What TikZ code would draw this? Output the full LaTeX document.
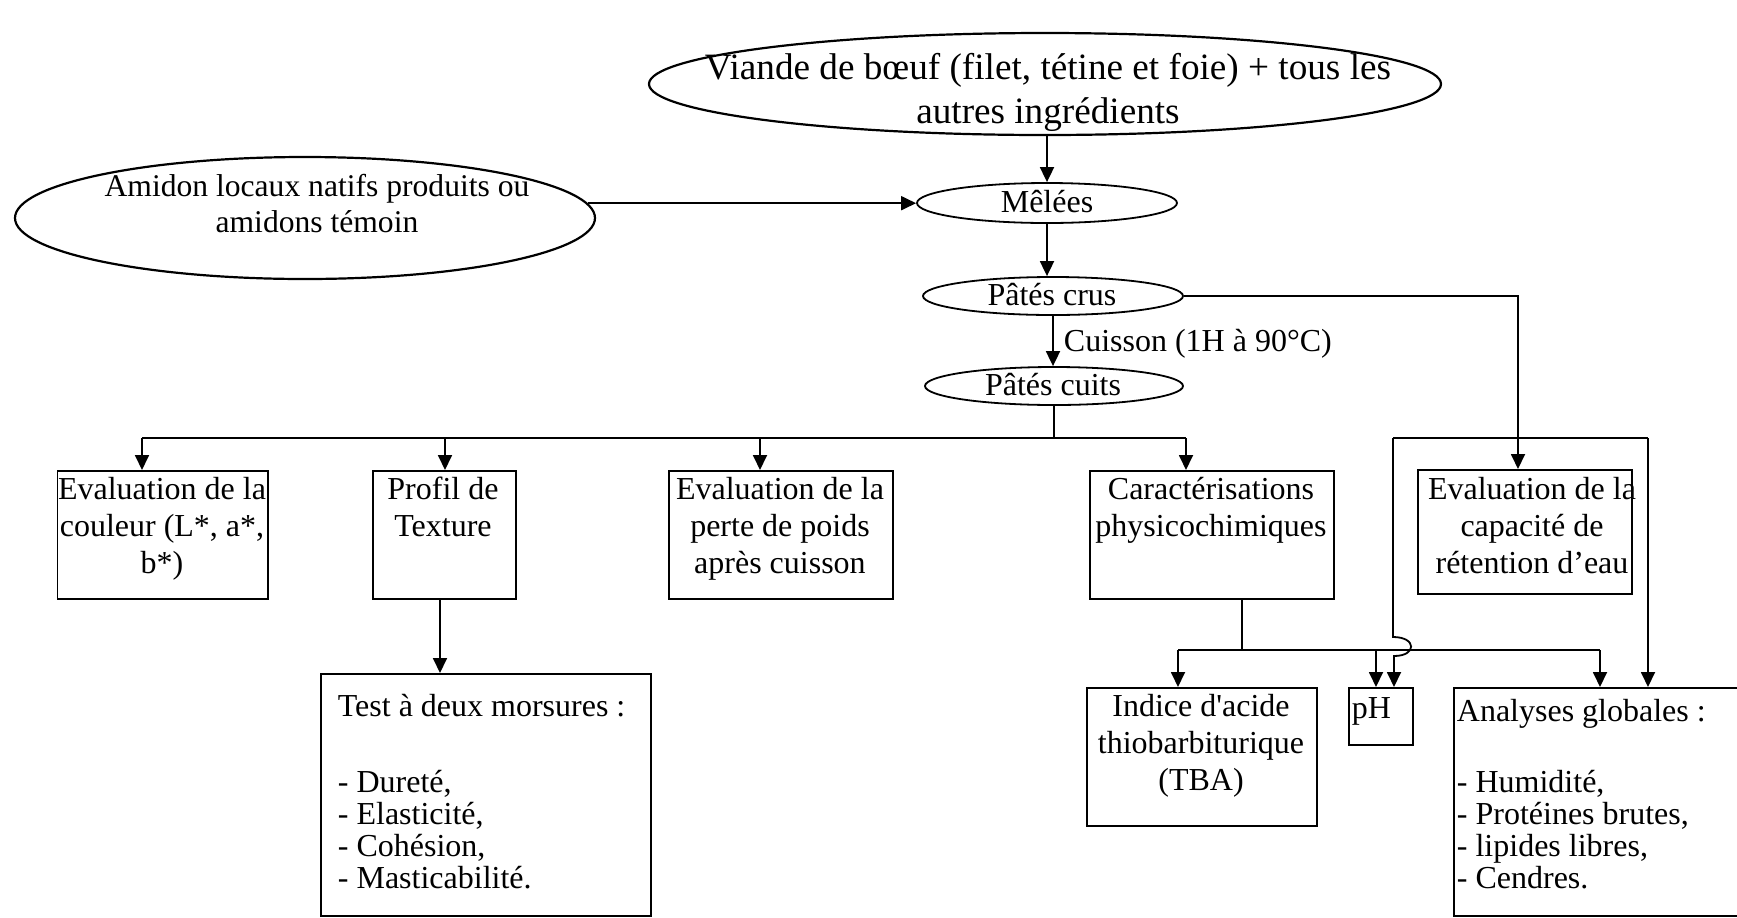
\documentclass[tikz,border=0pt]{standalone}
\usepackage{fontspec}
\setmainfont{Liberation Serif}[Ligatures=TeXOff]
\usetikzlibrary{arrows.meta,shapes.geometric}
\begin{document}
\begin{tikzpicture}[x=0.5pt,y=-0.5pt,
  line width=0.9pt,
  arr/.style={-{Triangle[length=7.5pt,width=7pt]}},
  ell/.style={draw,ellipse,inner sep=0pt},
  box/.style={draw,rectangle,inner sep=0pt,anchor=north west},
  txt/.style={font=\fontsize{16}{18.6}\selectfont,align=center,inner sep=0pt},
  lst/.style={font=\fontsize{16}{16}\selectfont,align=left,inner sep=0pt,anchor=north west}]
\useasboundingbox (0,0) rectangle (1737,917);
\clip (0,0) rectangle (1737,917);

% ellipses
\node[ell,line width=1.1pt,minimum width=396pt,minimum height=51pt] (viande) at (1045,84) {};
\node[font=\fontsize{18.6}{22}\selectfont,align=center,inner sep=0pt,anchor=north] (tviande) at (1048,52)
  {Viande de bœuf (filet, tétine et foie) + tous les\\autres ingrédients};
\node[ell,line width=1.1pt,minimum width=290pt,minimum height=61pt] (amidon) at (305,218) {};
\node[font=\fontsize{15.8}{18}\selectfont,align=center,inner sep=0pt,anchor=north] (tamidon) at (317,173)
  {Amidon locaux natifs produits ou\\amidons témoin};
\node[ell,minimum width=130pt,minimum height=20pt] (melees) at (1047,203) {};
\node[txt] (tmelees) at (1047,202) {Mêlées};
\node[ell,minimum width=130pt,minimum height=19pt] (crus) at (1053,296) {};
\node[txt] (tcrus) at (1052,294.5) {Pâtés crus};
\node[ell,minimum width=129pt,minimum height=19pt] (cuits) at (1054,386) {};
\node[txt] (tcuits) at (1053,384.5) {Pâtés cuits};

% boxes
\node[box,minimum width=105.25pt,minimum height=64pt] (b1) at (56.5,470) {};
\node[txt,anchor=north] (t1) at (162,476) {Evaluation de la\\couleur (L*, a*,\\b*)};
\node[box,minimum width=71.5pt,minimum height=64pt] (b2) at (372,470) {};
\node[txt,anchor=north] (t2) at (443,476) {Profil de\\Texture};
\node[box,minimum width=112pt,minimum height=64pt] (b3) at (668,470) {};
\node[txt,anchor=north] (t3) at (780,476) {Evaluation de la\\perte de poids\\après cuisson};
\node[box,minimum width=122pt,minimum height=64pt] (b4) at (1089,470) {};
\node[txt,anchor=north] (t4) at (1211,476) {Caractérisations\\physicochimiques};
\node[box,line width=1.1pt,minimum width=107pt,minimum height=62pt] (b5) at (1417,469) {};
\node[txt,anchor=north] (t5) at (1532,476) {Evaluation de la\\capacité de\\rétention d’eau};

\node[box,minimum width=165pt,minimum height=121pt] (test) at (320,673) {};
\node[lst] (ttest) at (337,693.5) {Test à deux morsures :\\[22pt]- Dureté,\\- Elasticité,\\- Cohésion,\\- Masticabilité.};
\node[box,line width=1.1pt,minimum width=115pt,minimum height=69pt] (tba) at (1086,687) {};
\node[txt,anchor=north] (ttba) at (1201,693) {Indice d'acide\\thiobarbiturique\\(TBA)};
\node[box,line width=1.1pt,minimum width=32pt,minimum height=28.5pt] (ph) at (1348,687) {};
\node[txt,anchor=west] (tph) at (1351,711) {pH};
\node[box,line width=1.1pt,minimum width=153.5pt,minimum height=114pt] (anal) at (1453,687) {};
\node[lst] (tanal) at (1456,698.5) {Analyses globales :\\[19.5pt]- Humidité,\\- Protéines brutes,\\- lipides libres,\\- Cendres.};

% connectors top
\draw[arr] (viande.south -| melees.north) -- (melees.north);
\draw[arr] (amidon.3) -- (amidon.3 -| melees.west);
\draw[arr] (melees.south) -- (melees.south |- crus.north);
\draw[arr] (crus.south) -- (crus.south |- cuits.north)
  node[midway,anchor=west,xshift=5pt,yshift=-1.5pt,txt] (cuisson) {Cuisson (1H à 90°C)};

% upper bus
\coordinate (busL) at (142,438);
\coordinate (busR) at (1186,438);
\draw (cuits.south) -- (cuits.south |- busL);
\draw (busL) -- (busR);
\draw[arr] (busL) -- (busL |- b1.north);
\draw[arr] (445,438) -- (445,0 |- b2.north);
\draw[arr] (760,438) -- (760,0 |- b3.north);
\draw[arr] (busR) -- (busR |- b4.north);

% crus to right
\draw[arr] (crus.east) -- (1518,0 |- crus.east) -- (1518,0 |- b5.north);
\coordinate (loopL) at (1393,438);
\coordinate (loopR) at (1648,438);
\draw (loopL) -- (loopR);
\draw[arr] (loopR) -- (loopR |- anal.north);
\draw[arr] (loopL) -- (1393,637) .. controls (1417,637) and (1417,656) .. (1394,656) -- (1394,0 |- ph.north);

% lower bus
\coordinate (lbL) at (1178,650);
\coordinate (lbR) at (1600,650);
\draw (1242,0 |- b4.south) -- (1242,650);
\draw (lbL) -- (lbR);
\draw[arr] (lbL) -- (lbL |- tba.north);
\draw[arr] (1376,650) -- (1376,0 |- ph.north);
\draw[arr] (lbR) -- (lbR |- anal.north);

% texture to test
\draw[arr] (440,0 |- b2.south) -- (440,0 |- test.north);
\end{tikzpicture}
\end{document}
